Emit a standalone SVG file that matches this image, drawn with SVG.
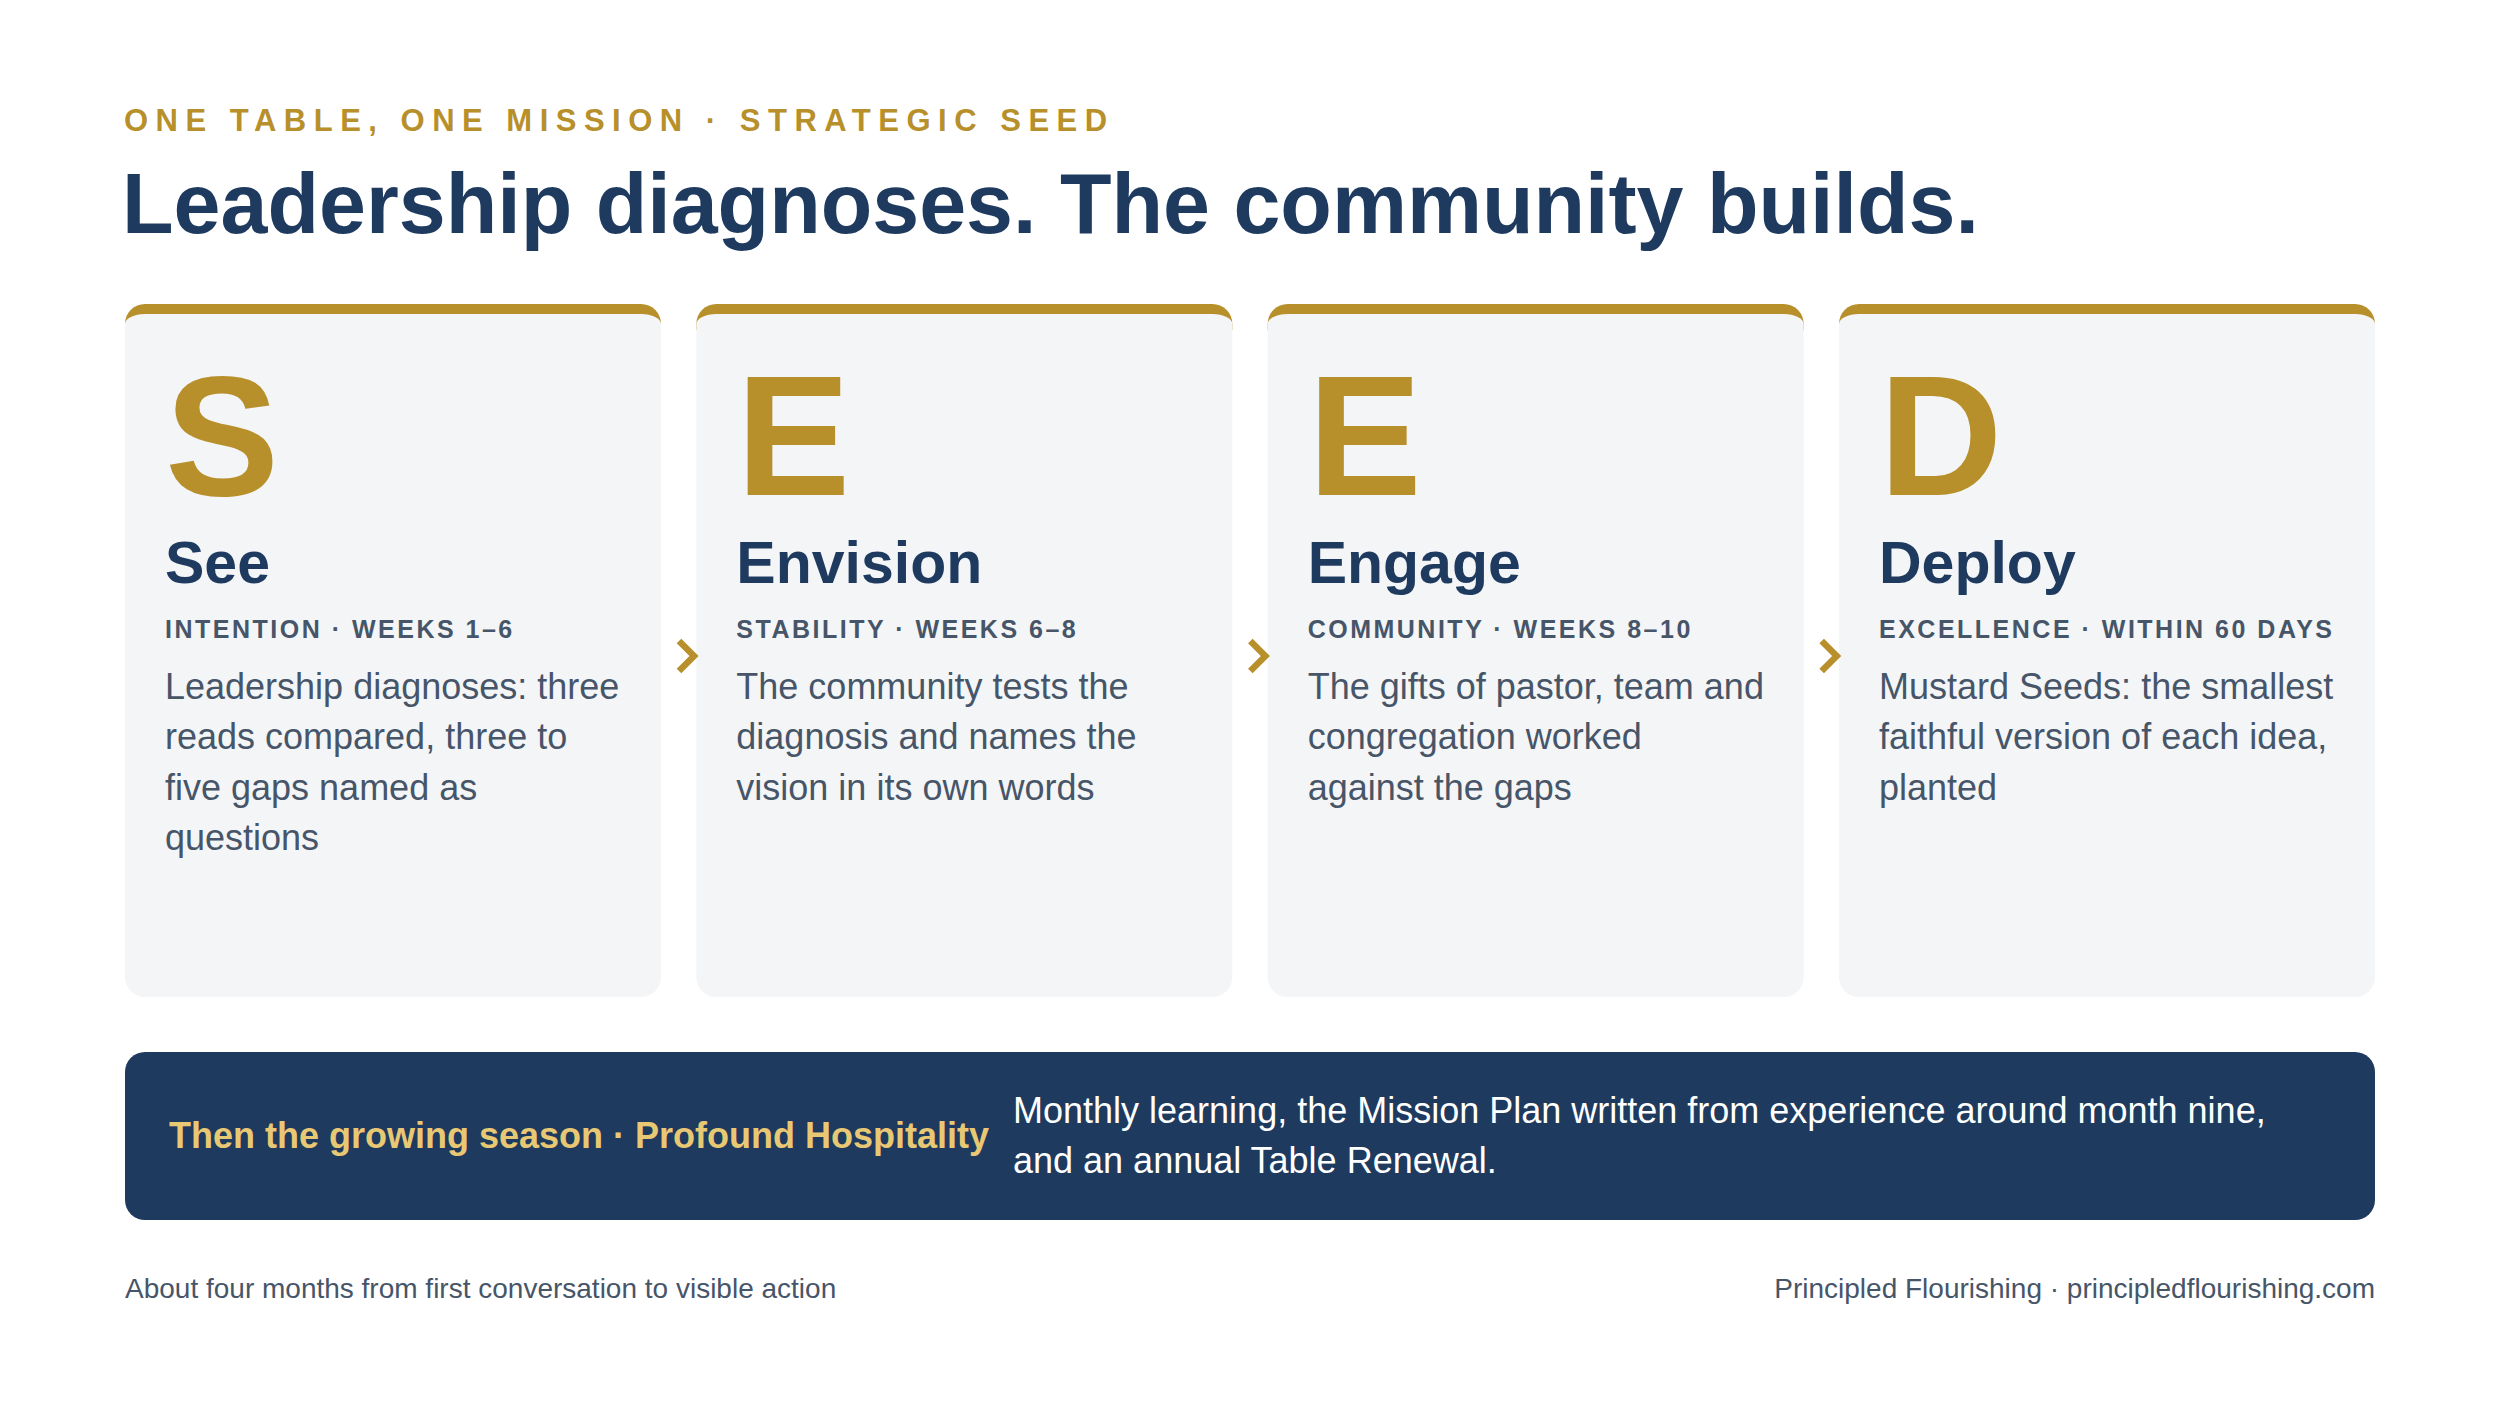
<svg xmlns="http://www.w3.org/2000/svg" width="2500" height="1406" viewBox="0 0 2500 1406">
<style>
text{font-family:"Liberation Sans",Arial,sans-serif}
.kicker{font-size:31px;font-weight:700;fill:#B8902B;letter-spacing:7.5px}
.title{font-size:84.4px;font-weight:700;fill:#1E3A5F}
.gold{fill:#B8902B}
.bg{fill:#F4F5F7}
.big{font-size:171px;font-weight:700;fill:#B8902B}
.name{font-size:59px;font-weight:700;fill:#1E3A5F}
.meta{font-size:25px;font-weight:700;fill:#475569;letter-spacing:2.5px}
.body{font-size:36px;fill:#475569}
.band{fill:#1E3A5F}
.bandlabel{font-size:36px;font-weight:700;fill:#E8C872}
.bandtext{font-size:36px;fill:#FFFFFF}
.foot{font-size:28px;fill:#475569}
.chev{fill:none;stroke:#B8902B;stroke-width:6.5;stroke-linejoin:miter}
</style>
<defs>
<g id="cardshape">
<path class="gold" d="M0,20 A20,20 0 0 1 20,0 H516 A20,20 0 0 1 536,20 V26 H0 Z"/>
<path class="bg" d="M0,20 A20,10 0 0 1 20,10 H516 A20,10 0 0 1 536,20 V673 A20,20 0 0 1 516,693 H20 A20,20 0 0 1 0,673 Z"/>
</g>
</defs>
<rect width="2500" height="1406" fill="#FFFFFF"/>
<g id="header">
<text class="kicker" x="124" y="131">ONE TABLE, ONE MISSION · STRATEGIC SEED</text>
<text class="title" x="122" y="233">Leadership diagnoses. The community builds.</text>
</g>
<g id="card-see">
<use href="#cardshape" x="125" y="304"/>
<text class="big" x="165" y="495">S</text>
<text class="name" x="165" y="583">See</text>
<text class="meta" x="165" y="638">INTENTION · WEEKS 1–6</text>
<text class="body" x="165" y="699">Leadership diagnoses: three</text>
<text class="body" x="165" y="749">reads compared, three to</text>
<text class="body" x="165" y="800">five gaps named as</text>
<text class="body" x="165" y="850">questions</text>
</g>
<g id="card-envision">
<use href="#cardshape" x="696.33" y="304"/>
<text class="big" x="736.33" y="495">E</text>
<text class="name" x="736.33" y="583">Envision</text>
<text class="meta" x="736.33" y="638">STABILITY · WEEKS 6–8</text>
<text class="body" x="736.33" y="699">The community tests the</text>
<text class="body" x="736.33" y="749">diagnosis and names the</text>
<text class="body" x="736.33" y="800">vision in its own words</text>
</g>
<g id="card-engage">
<use href="#cardshape" x="1267.67" y="304"/>
<text class="big" x="1307.67" y="495">E</text>
<text class="name" x="1307.67" y="583">Engage</text>
<text class="meta" x="1307.67" y="638">COMMUNITY · WEEKS 8–10</text>
<text class="body" x="1307.67" y="699">The gifts of pastor, team and</text>
<text class="body" x="1307.67" y="749">congregation worked</text>
<text class="body" x="1307.67" y="800">against the gaps</text>
</g>
<g id="card-deploy">
<use href="#cardshape" x="1839" y="304"/>
<text class="big" x="1879" y="495">D</text>
<text class="name" x="1879" y="583">Deploy</text>
<text class="meta" x="1879" y="638">EXCELLENCE · WITHIN 60 DAYS</text>
<text class="body" x="1879" y="699">Mustard Seeds: the smallest</text>
<text class="body" x="1879" y="749">faithful version of each idea,</text>
<text class="body" x="1879" y="800">planted</text>
</g>
<g id="connectors">
<polyline class="chev" points="679,641 694,656 679,671"/>
<polyline class="chev" points="1250.33,641 1265.33,656 1250.33,671"/>
<polyline class="chev" points="1821.67,641 1836.67,656 1821.67,671"/>
</g>
<g id="growing-season">
<rect class="band" x="125" y="1052" width="2250" height="168" rx="20" ry="20"/>
<text class="bandlabel" x="169" y="1148">Then the growing season · Profound Hospitality</text>
<text class="bandtext" x="1013" y="1123">Monthly learning, the Mission Plan written from experience around month nine,</text>
<text class="bandtext" x="1013" y="1173">and an annual Table Renewal.</text>
</g>
<g id="footer">
<text class="foot" x="125" y="1298">About four months from first conversation to visible action</text>
<text class="foot" x="2375" y="1298" text-anchor="end">Principled Flourishing · principledflourishing.com</text>
</g>
</svg>
